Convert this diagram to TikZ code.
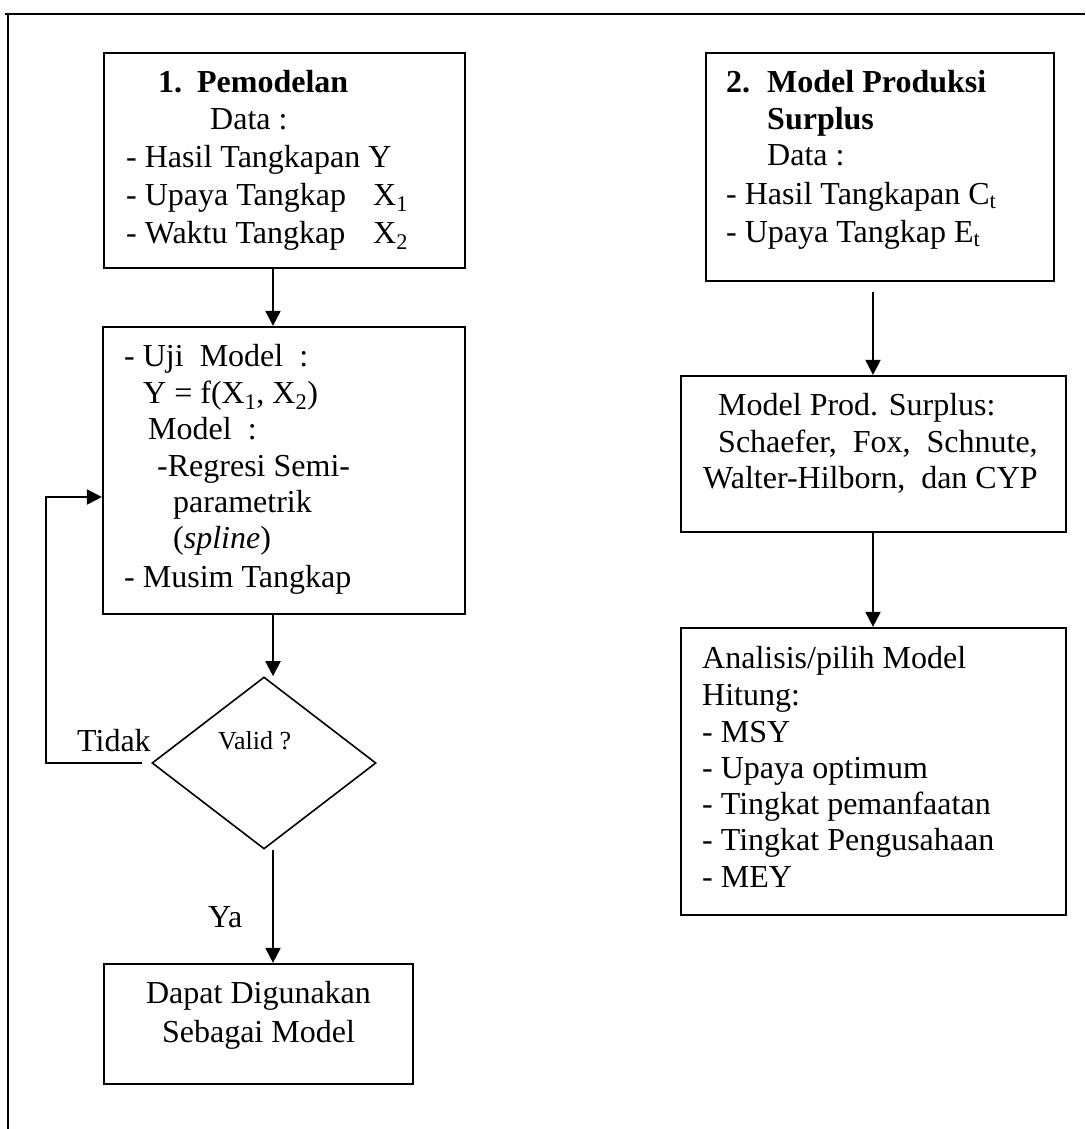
\documentclass[tikz,border=0pt]{standalone}
\usepackage{fontspec}
\setmainfont{Liberation Serif}
\usetikzlibrary{arrows.meta,shapes.geometric}
\begin{document}
\begin{tikzpicture}[x=1pt,y=-1pt,
  box/.style={draw,line width=2.2pt,rectangle,inner sep=0pt},
  txt/.style={anchor=base west,inner sep=0pt,font=\fontsize{32}{37}\selectfont},
  btxt/.style={anchor=base west,inner sep=0pt,font=\fontsize{32}{37}\selectfont\bfseries},
  ctxt/.style={anchor=base,inner sep=0pt,font=\fontsize{32}{37}\selectfont},
  arr/.style={line width=2pt,-{Triangle[length=15pt,width=15pt]}},
  framel/.style={line width=2pt}]
\useasboundingbox (0,0) rectangle (1085,1129);
% frame
\draw[framel] (5,14) -- (1085,14);
\draw[framel] (8,14) -- (8,1129);
% boxes
\node[box,minimum width=361pt,minimum height=215pt] (b1) at (284.5,160.5) {};
\node[box,minimum width=362pt,minimum height=287pt] (b2) at (284,470.5) {};
\node[box,minimum width=348pt,minimum height=228pt] (b3) at (880,167) {};
\node[box,minimum width=385pt,minimum height=156pt] (b4) at (873.5,454) {};
\node[box,minimum width=385pt,minimum height=287pt] (b5) at (873.5,771.5) {};
\node[box,minimum width=309pt,minimum height=120pt] (b6) at (258.5,1024) {};
\node[draw,diamond,line width=1.6pt,minimum width=224pt,minimum height=172pt,inner sep=0pt] (dia) at (264,763) {};
% connectors
\coordinate (axl) at (273,0);
\coordinate (axr) at (873,0);
\coordinate (fb) at (46,497);
\draw[arr] (b1.south -| axl) -- (b2.north -| axl);
\draw[arr] (b2.south -| axl) -- (axl |- dia.north);
\draw[arr] (axl |- dia.south) -- (b6.north -| axl);
\draw[arr] ([xshift=-9pt]dia.west) -| (fb) -- (b2.west |- fb);
\draw[arr,shorten <=10pt] (b3.south -| axr) -- (b4.north -| axr);
\draw[arr] (b4.south -| axr) -- (b5.north -| axr);
% box 1
\node[btxt] (t1a) at (158,93) {\makebox[39pt][l]{1.}Pemodelan};
\node[txt] (t1b) at (210,129) {Data :};
\node[txt] (t1c) at (126,167) {- Hasil Tangkapan Y};
\node[txt] (t1d) at (126,205) {\makebox[247pt][l]{- Upaya Tangkap}X\textsubscript{1}};
\node[txt] (t1e) at (126,243) {\makebox[247pt][l]{- Waktu Tangkap}X\textsubscript{2}};
% box 2
\node[txt] (t2a) at (124,366) {- Uji~~Model~~:};
\node[txt] (t2b) at (143,403) {Y = f(X\textsubscript{1}, X\textsubscript{2})};
\node[txt] (t2c) at (148,439) {Model~~:};
\node[txt] (t2d) at (157,476) {-Regresi Semi-};
\node[txt] (t2e) at (173,512) {parametrik};
\node[txt] (t2f) at (173,548) {(\textit{spline})};
\node[txt] (t2g) at (124,587) {- Musim Tangkap};
% box 3
\node[btxt] (t3a) at (726,93) {\makebox[41pt][l]{2.}Model Produksi};
\node[btxt] (t3b) at (767,130) {Surplus};
\node[txt] (t3c) at (767,165) {Data :};
\node[txt] (t3d) at (726,204) {- Hasil Tangkapan C\textsubscript{t}};
\node[txt] (t3e) at (726,242) {- Upaya Tangkap E\textsubscript{t}};
% box 4
\node[txt] (t4a) at (718,415) {Model Prod. Surplus:};
\node[txt] (t4b) at (718,452) {Schaefer,~~Fox,~~Schnute,};
\node[txt] (t4c) at (703,488) {Walter-Hilborn,~~dan CYP};
% box 5
\node[txt] (t5a) at (702,668) {Analisis/pilih Model};
\node[txt] (t5b) at (702,705) {Hitung:};
\node[txt] (t5c) at (702,742) {- MSY};
\node[txt] (t5d) at (702,778) {- Upaya optimum};
\node[txt] (t5e) at (702,814) {- Tingkat pemanfaatan};
\node[txt] (t5f) at (702,850) {- Tingkat Pengusahaan};
\node[txt] (t5g) at (702,887) {- MEY};
% box 6
\node[ctxt] (t6a) at (258.5,1003) {Dapat Digunakan};
\node[ctxt] (t6b) at (258.5,1042) {Sebagai Model};
% labels
\node[txt] (tidak) at (77,751) {Tidak};
\node[txt] (ya) at (208,927) {Ya};
\node[anchor=base west,inner sep=0pt,font=\fontsize{26}{30}\selectfont] (valid) at (218,749) {Valid ?};
\end{tikzpicture}
\end{document}
